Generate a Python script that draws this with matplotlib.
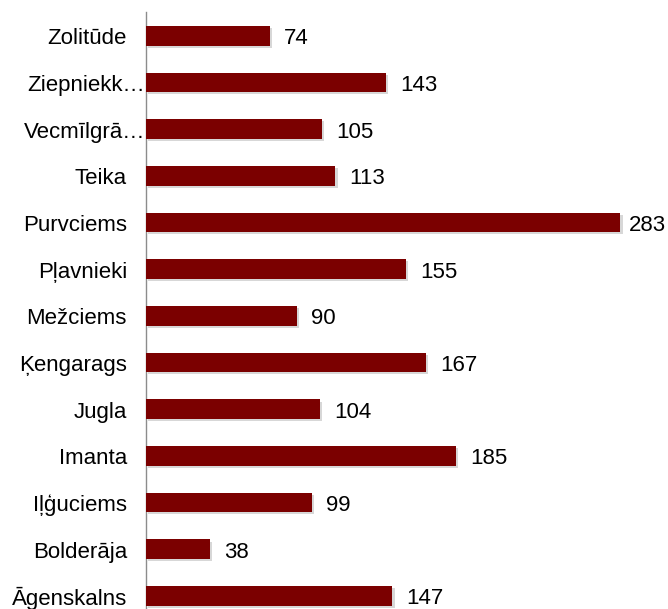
import matplotlib.pyplot as plt
import matplotlib.patheffects as pe

plt.rcParams['font.family'] = ['Liberation Sans', 'DejaVu Sans']

# data, bottom to top
districts = ["Āgenskalns", "Bolderāja", "Iļģuciems", "Imanta", "Jugla", "Ķengarags",
             "Mežciems", "Pļavnieki", "Purvciems", "Teika", "Vecmīlgrā…",
             "Ziepniekk…", "Zolitūde"]
values = [147, 38, 99, 185, 104, 167, 90, 155, 283, 113, 105, 143, 74]

W, H = 668, 609
fig = plt.figure(figsize=(W / 100, H / 100), dpi=100)
ax = fig.add_axes([146 / W, 0, 503 / W, 597 / H])
XMAX = 300

ypos = range(len(districts))
bars = ax.barh(ypos, values, height=0.42, color="#7B0000", zorder=3)
for b in bars:
    b.set_path_effects([pe.SimplePatchShadow(offset=(1.5, -1.5), shadow_rgbFace="#b0b0b0", alpha=0.5),
                        pe.Normal()])

# value labels, squeezed in near the right edge like Excel does
for y, v in zip(ypos, values):
    end_px = 146 + v * 503 / XMAX
    gap = min(14, W - 1 - 38 - end_px)
    ax.annotate(str(v), (v, y), xytext=(gap, -3), textcoords="offset pixels",
                va="center", ha="left", fontsize=16)

# category labels (truncated ones sit closer to the axis)
for y, name in zip(ypos, districts):
    off = -1 if name.endswith("…") else -19
    ax.annotate(name, (0, y), xytext=(off, -3), textcoords="offset pixels",
                va="center", ha="right", fontsize=16, annotation_clip=False)

ax.set_xlim(0, XMAX)
ax.set_ylim(-0.28, 12.51)
ax.set_yticks([])
ax.set_xticks([])

for s in ["top", "right", "bottom"]:
    ax.spines[s].set_visible(False)
ax.spines["left"].set_color("#8c8c8c")
ax.spines["left"].set_linewidth(1)

plt.savefig("out.png", dpi=100)
